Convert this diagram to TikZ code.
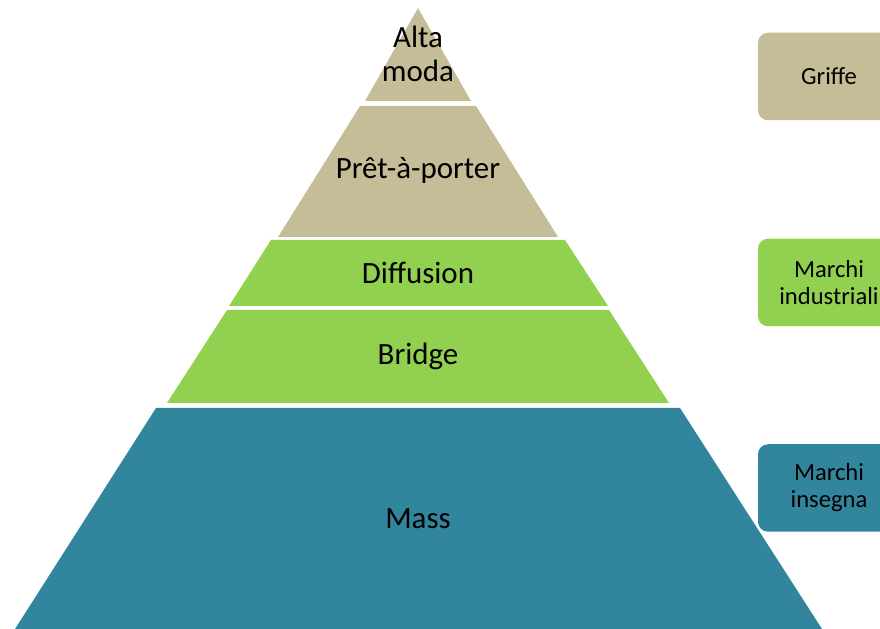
\documentclass[tikz,border=0pt]{standalone}
\usepackage{fontspec}
\setmainfont{Carlito}
\definecolor{tan}{HTML}{C4BD97}
\definecolor{leaf}{HTML}{92D050}
\definecolor{teal}{HTML}{31859C}

\begin{document}
\begin{tikzpicture}[
    layer/.style = {font=\fontsize{17.6}{19}\selectfont, align=center},
    brand/.style = {rounded corners=.2cm, minimum width=2.84cm, minimum height=1.75cm,
                    font=\fontsize{14}{15.4}\selectfont, align=center}]
\useasboundingbox (0,0) rectangle (17.6,12.58);
\clip (0,0) rectangle (17.6,12.58);
% pyramid, top to bottom
\fill [tan] (8.36,12.42) -- (9.42,10.56) -- (7.30,10.56) -- cycle;
\fill [tan] (7.20,10.46) -- (9.52,10.46) -- (11.16,7.84) -- (5.56,7.84) -- cycle;
\fill [leaf] (5.42,7.78) -- (11.30,7.78) -- (12.16,6.46) -- (4.58,6.46) -- cycle;
\fill [leaf] (4.54,6.38) -- (12.18,6.38) -- (13.38,4.52) -- (3.34,4.52) -- cycle;
\fill [teal] (3.12,4.42) -- (13.60,4.42) -- (16.44,0) -- (0.30,0) -- cycle;
\node [layer] (alta) at (8.36,11.50) {Alta\\moda};
\node [layer] (pret) at (8.36,9.18) {Prêt-à-porter};
\node [layer] (diff) at (8.36,7.12) {Diffusion};
\node [layer] (bridge) at (8.36,5.46) {Bridge};
\node [layer] (mass) at (8.36,2.20) {Mass};
% brand boxes on the right
\node [brand, fill=tan] (griffe) at (16.58,11.05) {Griffe};
\node [brand, fill=leaf] (industriali) at (16.58,6.93) {Marchi\\industriali};
\node [brand, fill=teal] (insegna) at (16.58,2.82) {Marchi\\insegna};
\end{tikzpicture}
\end{document}
